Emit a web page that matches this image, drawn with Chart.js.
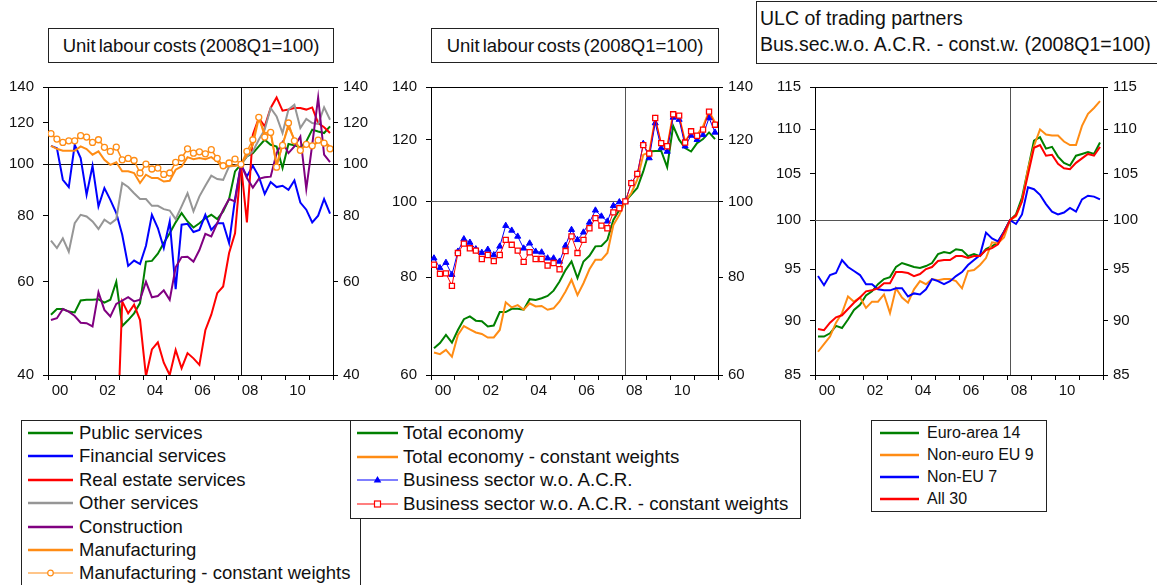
<!DOCTYPE html>
<html>
<head>
<meta charset="utf-8">
<title>Unit labour costs</title>
<script src="https://cdn.jsdelivr.net/npm/chart.js@4.4.1/dist/chart.umd.min.js"></script>
<style>
  body { margin: 0; width: 1157px; height: 585px; overflow: hidden; position: relative; background: #fff;
         font-family: "Liberation Sans", Arial, sans-serif; color: #111; }
  canvas { position: absolute; top: 80px; }
  .box { position: absolute; border: 1px solid #222; background: #fff; box-sizing: border-box; }
  .title { font-size: 18.5px; text-align: center; line-height: 33px; word-spacing: -2px; white-space: nowrap; }
  .title2 { font-size: 19.5px; line-height: 26px; padding: 3px 0 0 3px; white-space: nowrap; text-align: left; }
  .ltext { position: absolute; white-space: nowrap; line-height: 1; transform: translateY(-50%); }
</style>
</head>
<body>
<div class="box title" style="left:48px;top:28px;width:286px;height:35px">Unit labour costs (2008Q1=100)</div>
<div class="box title" style="left:431px;top:28px;width:288px;height:35px">Unit labour costs (2008Q1=100)</div>
<div class="box title2" style="left:756px;top:1px;width:430px;height:63px">ULC of trading partners<br>Bus.sec.w.o. A.C.R. - const.w. (2008Q1=100)</div>

<canvas id="sectors" width="380" height="320" style="left:0px"></canvas>
<canvas id="total" width="380" height="320" style="left:383px"></canvas>
<canvas id="partners" width="390" height="320" style="left:767px"></canvas>

<div class="box" style="left:21px;top:420px;width:340px;height:200px"></div>
<div class="box" style="left:350px;top:420px;width:451px;height:99px"></div>
<div class="box" style="left:871px;top:420px;width:176px;height:92px"></div>

<script>
const GREEN = '#008000', BLUE = '#0000ff', RED = '#ff0000', GREY = '#969696', PURPLE = '#800080', ORANGE = '#ff8c14';

const quarters = [];
for (let y = 2000; y <= 2011; y++) for (let q = 1; q <= 4; q++) quarters.push(y + 'Q' + q);
const yearLabels = ['00', '02', '04', '06', '08', '10'];
const baseQuarter = '2008Q1';

const ticksSectors = [40, 60, 80, 100, 120, 140];
const ticksTotal = [60, 80, 100, 120, 140];
const ticksPartners = [85, 90, 95, 100, 105, 110, 115];

// left panel: sectors
const publicServices = [52.0, 53.3, 53.3, 52.7, 52.5, 55.3, 55.5, 55.5, 55.6, 54.8, 55.5, 60.0,
  49.5, 50.8, 52.3, 54.7, 65.5, 65.7, 67.8, 71.0, 74.1, 77.7, 80.9, 78.0,
  76.0, 77.4, 79.1, 80.3, 78.8, 81.5, 86.0, 97.0, 100, 103.5, 105.0, 108.1,
  111.3, 108.9, 108.1, 98.4, 109.3, 108.6, 107.7, 110.5, 116.3, 115.4, 114.6, 118.0];
const financialServices = [108.4, 107.3, 93.5, 90.6, 108.9, 102.8, 87.6, 99.4, 83.3, 90.2, 85.7, 80.9,
  73.6, 64.3, 65.8, 64.8, 70.2, 80.3, 75.8, 69.5, 78.0, 58.1, 76.9, 77.2,
  74.5, 75.2, 80.3, 75.2, 77.4, 77.4, 71.0, 86.0, 100, 94.9, 99.4, 94.9,
  87.9, 92.6, 90.6, 91.1, 89.5, 93.2, 84.7, 82.1, 77.7, 80.0, 86.0, 80.7];
const realEstate = [30.5, 31.0, 29.5, 30.0, 28.5, 29.0, 28.0, 28.5, 27.5, 28.0, 27.5, 27.0,
  55.1, 52.3, 54.3, 50.8, 39.8, 44.7, 46.1, 42.2, 40.0, 44.6, 41.2, 44.0,
  43.0, 41.8, 48.6, 52.0, 57.1, 58.8, 68.0, 74.1, 100, 77.7, 113.8, 122.3,
  118.0, 127.8, 133.8, 126.3, 126.9, 127.8, 127.8, 126.9, 128.1, 119.7, 117.5, 114.6];
const otherServices = [71.8, 69.5, 72.5, 68.4, 77.4, 80.3, 79.7, 78.0, 75.5, 78.6, 77.2, 78.8,
  92.2, 90.6, 88.2, 86.0, 86.0, 83.5, 83.5, 82.3, 81.8, 78.8, 83.3, 88.2,
  81.5, 87.0, 91.1, 95.2, 93.8, 93.5, 99.1, 99.4, 100, 103.5, 105.8, 111.3,
  116.3, 127.8, 123.2, 114.6, 126.9, 129.6, 117.1, 121.8, 119.7, 119.2, 128.1, 121.4];
const construction = [50.8, 51.2, 53.3, 52.7, 51.7, 50.2, 50.1, 49.4, 57.3, 53.1, 51.6, 54.5,
  55.3, 56.1, 55.1, 55.5, 60.0, 56.1, 56.4, 57.8, 55.5, 63.9, 66.8, 66.9,
  65.5, 68.9, 73.9, 73.1, 77.4, 82.1, 86.0, 85.1, 100, 94.2, 90.4, 93.9,
  94.5, 94.8, 105.0, 110.2, 105.0, 108.1, 112.9, 89.9, 108.9, 133.8, 104.3, 101.0];
const manufacturing = [108.4, 107.0, 106.1, 106.1, 106.1, 108.1, 106.9, 104.3, 105.8, 102.0, 99.8, 100.9,
  97.0, 97.0, 96.3, 92.2, 95.6, 94.2, 94.2, 92.8, 93.1, 97.7, 99.1, 103.2,
  102.3, 102.8, 102.3, 103.2, 101.3, 98.4, 99.4, 99.4, 100, 104.3, 108.9, 122.3,
  114.6, 114.9, 99.8, 108.9, 118.0, 111.3, 106.6, 108.9, 108.1, 110.5, 110.5, 108.1];
const manufacturingCW = [114.3, 111.6, 110.0, 110.8, 110.8, 113.3, 112.6, 110.0, 111.3, 107.7, 105.8, 107.8,
  102.0, 102.6, 101.7, 96.3, 100.1, 98.0, 98.4, 95.7, 96.3, 100.9, 102.8, 107.0,
  105.0, 105.6, 104.7, 106.6, 102.6, 99.4, 100.6, 102.3, 100, 105.8, 111.3, 122.7,
  112.6, 114.9, 98.8, 108.6, 119.7, 110.8, 106.3, 109.1, 108.4, 111.1, 109.7, 107.0];

// middle panel: total economy and business sector
const totalEconomy = [64.9, 65.9, 67.5, 66.0, 68.5, 70.7, 71.3, 70.4, 70.3, 69.2, 69.4, 72.2,
  72.2, 72.9, 72.9, 72.7, 75.0, 74.8, 75.2, 75.7, 76.9, 79.0, 81.7, 83.8,
  79.8, 83.8, 85.2, 87.6, 87.7, 89.3, 94.7, 97.5, 100, 102.0, 104.0, 109.2,
  115.8, 116.0, 116.0, 110.6, 124.9, 119.9, 117.0, 115.8, 118.7, 120.1, 122.5, 120.1];
const totalEconomyCW = [64.1, 63.8, 64.6, 63.3, 67.5, 69.3, 68.6, 68.0, 67.7, 67.0, 67.0, 68.5,
  74.3, 73.2, 73.7, 72.7, 74.1, 73.4, 73.5, 72.7, 73.0, 74.5, 76.7, 79.4,
  75.9, 78.6, 81.9, 84.2, 84.2, 85.9, 93.3, 96.1, 100, 102.5, 106.6, 114.7,
  115.5, 127.4, 118.1, 117.0, 129.7, 128.2, 119.3, 122.3, 121.6, 124.7, 130.3, 126.2];
const businessSector = [84.6, 82.2, 83.5, 80.6, 86.3, 89.5, 88.6, 86.9, 86.0, 86.8, 85.4, 87.6,
  93.1, 91.8, 90.2, 87.1, 88.4, 86.3, 86.1, 84.6, 84.6, 83.8, 87.8, 92.0,
  89.3, 91.3, 94.0, 97.4, 95.7, 94.3, 98.7, 99.8, 100, 105.5, 108.4, 118.5,
  113.6, 125.9, 117.0, 115.8, 128.0, 127.2, 117.6, 121.4, 119.9, 121.6, 127.8, 122.5];
const businessSectorCW = [83.0, 80.8, 80.9, 78.0, 85.9, 88.3, 87.1, 86.5, 84.4, 85.4, 83.9, 85.4,
  89.3, 88.0, 86.5, 83.7, 86.1, 84.4, 84.4, 82.8, 83.4, 81.9, 86.4, 90.2,
  85.9, 89.3, 92.4, 95.2, 93.1, 92.4, 96.8, 98.0, 100, 105.5, 108.4, 118.0,
  115.1, 127.8, 118.7, 117.6, 129.2, 128.7, 118.9, 122.9, 121.3, 123.5, 130.2, 125.3];

// right panel: trading partners
const euroArea14 = [88.5, 88.5, 88.8, 89.5, 89.3, 90.1, 91.0, 91.5, 92.4, 92.8, 93.5, 94.0,
  94.2, 95.2, 95.6, 95.4, 95.2, 95.1, 95.3, 95.6, 96.5, 96.7, 96.6, 97.0,
  96.9, 96.3, 96.5, 96.3, 97.0, 97.3, 97.7, 98.8, 100, 100.6, 102.4, 105.5,
  108.7, 109.1, 107.8, 108.0, 106.9, 106.2, 105.9, 107.0, 107.2, 107.4, 107.2, 108.5];
const nonEuroEU9 = [87.1, 87.8, 88.5, 89.8, 90.7, 92.3, 91.8, 92.2, 91.2, 91.8, 91.8, 92.5,
  90.7, 93.1, 92.2, 91.7, 93.0, 93.8, 93.5, 94.0, 93.9, 94.0, 94.0, 93.8,
  93.1, 94.8, 94.9, 95.4, 96.1, 97.7, 97.6, 98.2, 100, 100.4, 102.0, 105.5,
  108.1, 110.0, 109.4, 109.3, 109.3, 108.6, 108.2, 108.2, 110.4, 111.8, 112.5, 113.3];
const nonEU7 = [94.3, 93.4, 94.4, 94.6, 95.9, 95.2, 94.8, 94.4, 93.5, 93.5, 93.0, 92.9,
  92.9, 93.1, 93.1, 92.3, 92.6, 92.5, 93.0, 94.0, 93.8, 93.5, 93.8, 94.3,
  94.7, 95.4, 95.9, 96.4, 98.7, 98.1, 97.8, 98.8, 100, 99.6, 100.6, 103.5,
  103.3, 102.7, 101.7, 100.9, 100.6, 100.8, 101.3, 100.9, 102.2, 102.6, 102.5, 102.2];
const all30 = [89.2, 89.1, 89.8, 90.3, 90.5, 91.1, 91.7, 92.2, 92.8, 92.9, 93.1, 93.6,
  93.6, 94.7, 94.7, 94.6, 94.3, 94.5, 95.0, 95.2, 95.8, 95.9, 95.9, 96.3,
  96.3, 96.1, 96.3, 96.3, 96.9, 97.1, 97.5, 98.7, 100, 100.5, 102.0, 104.9,
  107.9, 108.2, 107.0, 107.1, 106.1, 105.6, 105.5, 106.2, 106.7, 107.2, 107.0, 108.0];

const pts = vals => vals.map((v, i) => ({ x: i + 0.5, y: v }));

function line(label, vals, color, extra) {
  return Object.assign({
    label, data: pts(vals), borderColor: color, backgroundColor: color,
    borderWidth: 2, pointRadius: 0, tension: 0
  }, extra || {});
}

function fit(w, h) {
  return s => {
    if (w != null) s.width = w;
    if (h != null) s.height = h;
    s.paddingTop = 0; s.paddingBottom = 0; s.paddingLeft = 0; s.paddingRight = 0;
  };
}

const tickFont = { family: 'Liberation Sans', size: 15 };

function yAxis(pos, min, max, tickVals, width) {
  return {
    type: 'logarithmic', position: pos, min, max,
    afterBuildTicks: s => { s.ticks = tickVals.map(v => ({ value: v })); },
    afterFit: fit(width, null),
    ticks: { callback: v => String(v), font: tickFont, color: '#111', padding: pos === 'left' ? 9 : 5, autoSkip: false },
    grid: { drawOnChartArea: false, drawTicks: true, tickLength: 5, color: '#000', tickColor: '#000' },
    border: { display: true, color: '#000', width: 1 }
  };
}

function xAxis() {
  return {
    type: 'linear', position: 'bottom', min: 0, max: quarters.length,
    afterBuildTicks: s => {
      const t = [];
      for (let v = 0; v <= quarters.length; v += 4) t.push({ value: v });
      s.ticks = t;
    },
    afterFit: fit(null, 25),
    ticks: {
      callback: v => {
        const k = Math.round(v / 4);
        return (k % 2 === 0 && k / 2 < yearLabels.length) ? yearLabels[k / 2] : '';
      },
      labelOffset: 12, padding: 2, maxRotation: 0, minRotation: 0, autoSkip: false,
      font: tickFont, color: '#111'
    },
    grid: { drawOnChartArea: false, drawTicks: true, tickLength: 5, color: '#000', tickColor: '#000' },
    border: { display: true, color: '#000', width: 1 }
  };
}

const framePlugin = {
  id: 'frame',
  beforeDatasetsDraw(chart, args, opts) {
    const { ctx, chartArea: a } = chart;
    const y = Math.round(chart.scales.y.getPixelForValue(100)) + 0.5;
    const x = Math.round(chart.scales.x.getPixelForValue(quarters.indexOf(baseQuarter) + 0.5)) + 0.5;
    ctx.save();
    ctx.strokeStyle = opts.color;
    ctx.lineWidth = 1;
    ctx.beginPath();
    ctx.moveTo(a.left, y); ctx.lineTo(a.right, y);
    ctx.moveTo(x, a.top); ctx.lineTo(x, a.bottom);
    ctx.stroke();
    ctx.restore();
  },
  afterDraw(chart) {
    const { ctx, chartArea: a } = chart;
    ctx.save();
    ctx.strokeStyle = '#000';
    ctx.lineWidth = 1;
    ctx.beginPath();
    ctx.moveTo(a.left, a.top + 0.5); ctx.lineTo(a.right, a.top + 0.5);
    ctx.stroke();
    ctx.restore();
  }
};

function makePanel(id, datasets, min, max, tickVals, rightWidth, refColor) {
  datasets.forEach((d, i) => { d.order = datasets.length - i; });
  return new Chart(document.getElementById(id), {
    type: 'line',
    data: { datasets },
    plugins: [framePlugin],
    options: {
      responsive: false, animation: false, events: [], devicePixelRatio: 1,
      layout: { padding: { top: 7, left: 0, right: 0, bottom: 0 } },
      plugins: { legend: { display: false }, tooltip: { enabled: false }, frame: { color: refColor } },
      scales: {
        x: xAxis(),
        y: yAxis('left', min, max, tickVals, 48),
        y2: yAxis('right', min, max, tickVals, rightWidth)
      }
    }
  });
}

makePanel('sectors', [
  line('Public services', publicServices, GREEN),
  line('Financial services', financialServices, BLUE),
  line('Real estate services', realEstate, RED),
  line('Other services', otherServices, GREY),
  line('Construction', construction, PURPLE),
  line('Manufacturing', manufacturing, ORANGE),
  line('Manufacturing - constant weights', manufacturingCW, ORANGE, {
    borderWidth: 1.5, pointRadius: 3, pointStyle: 'circle',
    pointBackgroundColor: '#fff', pointBorderColor: ORANGE, pointBorderWidth: 1.3
  })
], 40, 140, ticksSectors, 47, '#111');

makePanel('total', [
  line('Total economy', totalEconomy, GREEN),
  line('Total economy - constant weights', totalEconomyCW, ORANGE),
  line('Business sector w.o. A.C.R.', businessSector, BLUE, {
    borderWidth: 1, pointRadius: 3.5, pointStyle: 'triangle',
    pointBackgroundColor: BLUE, pointBorderColor: BLUE, pointBorderWidth: 1
  }),
  line('Business sector w.o. A.C.R. - constant weights', businessSectorCW, RED, {
    borderWidth: 1, pointRadius: 3.6, pointStyle: 'rect',
    pointBackgroundColor: '#fff', pointBorderColor: RED, pointBorderWidth: 1.3
  })
], 60, 140, ticksTotal, 45, '#555');

makePanel('partners', [
  line('Euro-area 14', euroArea14, GREEN),
  line('Non-euro EU 9', nonEuroEU9, ORANGE),
  line('Non-EU 7', nonEU7, BLUE),
  line('All 30', all30, RED)
], 85, 115, ticksPartners, 54, '#555');

// legends
function markerSvg(m, cx, cy, color) {
  if (m === 'circle') return `<circle cx="${cx}" cy="${cy}" r="2.8" fill="#fff" stroke="${color}" stroke-width="1.2"/>`;
  if (m === 'triangle') return `<polygon points="${cx},${cy - 4} ${cx + 3.8},${cy + 2.6} ${cx - 3.8},${cy + 2.6}" fill="${color}"/>`;
  if (m === 'rect') return `<rect x="${cx - 3}" y="${cy - 3}" width="6" height="6" fill="#fff" stroke="${color}" stroke-width="1.2"/>`;
  return '';
}

function buildLegend(items, o) {
  items.forEach((it, k) => {
    const cy = o.top + k * o.step;
    const w = o.x1 - o.x0;
    const svg = document.createElementNS('http://www.w3.org/2000/svg', 'svg');
    svg.setAttribute('width', w);
    svg.setAttribute('height', 12);
    svg.style.cssText = `position:absolute;left:${o.x0}px;top:${cy - 6}px;overflow:visible`;
    svg.innerHTML = `<line x1="0" y1="6" x2="${w}" y2="6" stroke="${it.color}" stroke-width="${it.marker ? 1.2 : 2.4}"/>` +
      markerSvg(it.marker, w / 2, 6, it.color);
    document.body.appendChild(svg);
    const t = document.createElement('div');
    t.className = 'ltext';
    t.textContent = it.label;
    t.style.left = o.tx + 'px';
    t.style.top = cy + 'px';
    t.style.fontSize = o.size + 'px';
    document.body.appendChild(t);
  });
}

buildLegend([
  { label: 'Public services', color: GREEN },
  { label: 'Financial services', color: BLUE },
  { label: 'Real estate services', color: RED },
  { label: 'Other services', color: GREY },
  { label: 'Construction', color: PURPLE },
  { label: 'Manufacturing', color: ORANGE },
  { label: 'Manufacturing - constant weights', color: ORANGE, marker: 'circle' }
], { top: 433, step: 23.4, x0: 28, x1: 73, tx: 79, size: 18.5 });

buildLegend([
  { label: 'Total economy', color: GREEN },
  { label: 'Total economy - constant weights', color: ORANGE },
  { label: 'Business sector w.o. A.C.R.', color: BLUE, marker: 'triangle' },
  { label: 'Business sector w.o. A.C.R. - constant weights', color: RED, marker: 'rect' }
], { top: 433, step: 23.6, x0: 357, x1: 398, tx: 403, size: 18.7 });

buildLegend([
  { label: 'Euro-area 14', color: GREEN },
  { label: 'Non-euro EU 9', color: ORANGE },
  { label: 'Non-EU 7', color: BLUE },
  { label: 'All 30', color: RED }
], { top: 433, step: 22, x0: 880, x1: 919, tx: 927, size: 16 });
</script>
</body>
</html>
